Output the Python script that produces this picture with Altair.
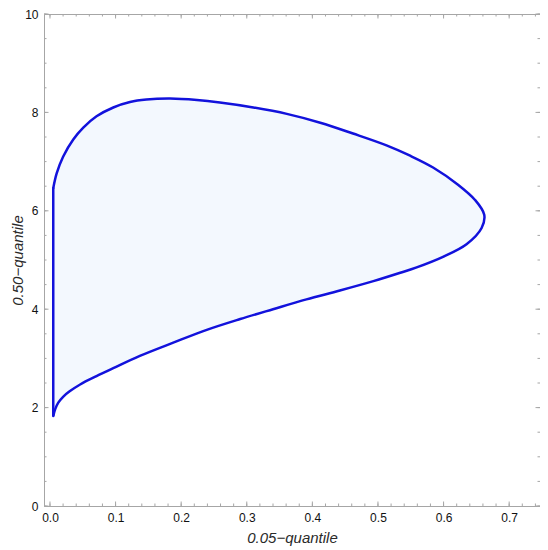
import altair as alt
import pandas as pd

# Curved boundary (open path: top of left edge -> upper branch -> tip -> lower branch -> bottom of left edge)
xs = [0.005, 0.0102, 0.020, 0.0355, 0.0508, 0.071, 0.0965, 0.122, 0.147, 0.183,
      0.224, 0.259, 0.310, 0.361, 0.412, 0.462, 0.513, 0.549, 0.584, 0.622, 0.648,
      0.662, 0.658, 0.635, 0.600, 0.559, 0.534, 0.493, 0.442, 0.391, 0.340, 0.290,
      0.239, 0.188, 0.137, 0.0965, 0.071, 0.046, 0.030, 0.020, 0.0127, 0.008, 0.005]
ys = [6.46, 6.76, 7.10, 7.45, 7.69, 7.92, 8.10, 8.21, 8.26, 8.28,
      8.25, 8.20, 8.10, 7.97, 7.79, 7.57, 7.33, 7.12, 6.88, 6.53, 6.22,
      5.92, 5.65, 5.32, 5.07, 4.85, 4.74, 4.57, 4.38, 4.20, 4.00, 3.80,
      3.58, 3.32, 3.05, 2.80, 2.64, 2.47, 2.33, 2.22, 2.10, 1.97, 1.83]

# Straight left edge
edge_x = [0.005, 0.005]
edge_y = [1.83, 6.46]

x_major = [0.0, 0.1, 0.2, 0.3, 0.4, 0.5, 0.6, 0.7]
x_minor = [round(i * 0.02, 2) for i in range(38)]
y_major = [0, 2, 4, 6, 8, 10]
y_minor = [i * 0.5 for i in range(21)]

x_domain = [-0.0091, 0.747]
y_domain = [0, 10]
x_title = "0.05\u2212quantile"
y_title = "0.50\u2212quantile"

curve = pd.DataFrame({"x": xs, "y": ys, "i": list(range(len(xs)))})
edge = pd.DataFrame({"x": edge_x, "y": edge_y, "i": [0, 1]})
xmaj = pd.DataFrame({"v": x_major})
xmin = pd.DataFrame({"v": x_minor})
ymaj = pd.DataFrame({"v": y_major})
ymin = pd.DataFrame({"v": y_minor})

W, H = 496, 492
FRAME = "#a6a6a6"
FONT = "Liberation Sans"
STROKE = "#1212dc"
MAJ, MIN = 4.5, 2.5

xs_ = alt.Scale(domain=x_domain, nice=False, zero=False)
ys_ = alt.Scale(domain=y_domain, nice=False, zero=False)

x_axis = alt.Axis(
    orient="bottom", values=x_major, format=".1f", ticks=False, domain=False, grid=False,
    labelPadding=6, labelFont=FONT, labelFontSize=12, labelColor="#111111",
    title=x_title, titleFont=FONT, titleFontSize=15, titleFontStyle="italic",
    titleFontWeight="normal", titleColor="#2a2a2a", titleY=31, titleBaseline="middle")
y_axis = alt.Axis(
    orient="left", values=y_major, format="d", ticks=False, domain=False, grid=False,
    labelPadding=6, labelFont=FONT, labelFontSize=12, labelColor="#111111",
    title=y_title, titleFont=FONT, titleFontSize=15, titleFontStyle="italic",
    titleFontWeight="normal", titleColor="#2a2a2a", titleX=-27, titleBaseline="middle")

region = alt.Chart(curve).mark_line(
    fill="#f3f8fe", stroke=STROKE, strokeWidth=2.5, strokeJoin="round",
    interpolate="catmull-rom"
).encode(
    x=alt.X("x:Q", scale=xs_, axis=x_axis),
    y=alt.Y("y:Q", scale=ys_, axis=y_axis),
    order="i:Q",
)

left_edge = alt.Chart(edge).mark_line(
    stroke=STROKE, strokeWidth=2.5, strokeCap="round"
).encode(
    x=alt.X("x:Q", scale=xs_, axis=x_axis),
    y=alt.Y("y:Q", scale=ys_, axis=y_axis),
    order="i:Q",
)


def xticks(df, y0, y1):
    return alt.Chart(df).mark_rule(color=FRAME, strokeWidth=1).encode(
        x=alt.X("v:Q", scale=xs_, axis=x_axis), y=alt.value(y0), y2=alt.value(y1))


def yticks(df, x0, x1):
    return alt.Chart(df).mark_rule(color=FRAME, strokeWidth=1).encode(
        y=alt.Y("v:Q", scale=ys_, axis=y_axis), x=alt.value(x0), x2=alt.value(x1))


chart = alt.layer(
    region,
    left_edge,
    xticks(xmin, H, H - MIN), xticks(xmaj, H, H - MAJ),
    xticks(xmin, 0, MIN), xticks(xmaj, 0, MAJ),
    yticks(ymin, 0, MIN), yticks(ymaj, 0, MAJ),
    yticks(ymin, W, W - MIN), yticks(ymaj, W, W - MAJ),
).properties(
    width=W, height=H,
    autosize=alt.AutoSizeParams(type="none"),
    padding={"left": 36, "top": 6, "right": 0, "bottom": 44},
    background="white",
).configure_view(stroke=FRAME, strokeWidth=1)

chart.save("out.html", embed_options={"renderer": "svg", "actions": False})
